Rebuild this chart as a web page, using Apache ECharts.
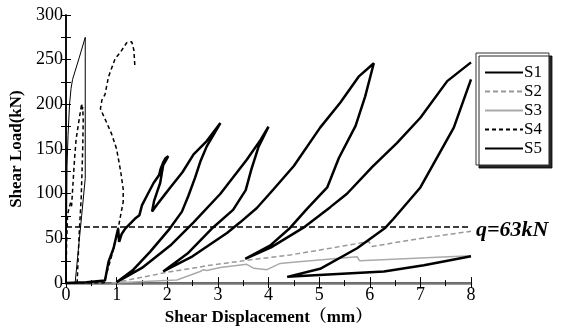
<!DOCTYPE html>
<html>
<head>
<meta charset="utf-8">
<script src="https://cdn.jsdelivr.net/npm/echarts@6/dist/echarts.min.js"></script>
<style>
  html, body { margin: 0; padding: 0; background: #fff; }
  #chart { width: 563px; height: 331px; }
</style>
</head>
<body>
<div id="chart"></div>
<script>
// shear displacement (mm), shear load (kN)
const s1 = [
  [0, 0], [0.4, 1], [0.77, 3], [0.84, 24], [0.94, 39], [1.03, 61], [1.05, 46], [1.1, 55], [1.17, 61],
  [1.36, 72], [1.45, 76], [1.5, 87], [1.6, 98], [1.73, 112], [1.84, 121], [1.87, 128], [1.92, 135],
  [1.97, 140], [2.02, 142], [1.98, 138], [1.92, 132], [1.89, 122], [1.86, 112], [1.8, 102], [1.74, 92],
  [1.7, 80], [1.8, 88], [1.95, 99], [2.06, 107], [2.3, 124], [2.52, 144], [2.78, 159], [3.05, 179],
  [2.78, 153], [2.66, 137], [2.55, 118], [2.42, 98], [2.29, 80], [2.05, 61], [1.66, 35], [1.33, 15], [1.0, 1],
  [1.5, 17], [2.06, 42], [2.52, 68], [3.05, 100], [3.57, 138], [3.84, 160], [4.0, 175],
  [3.8, 152], [3.66, 127], [3.55, 104], [3.3, 82], [2.9, 62], [2.4, 33], [1.92, 13],
  [2.5, 30], [3.18, 56], [3.44, 68], [3.77, 84], [4.1, 105], [4.5, 131], [5.02, 174], [5.42, 202],
  [5.78, 231], [6.08, 246], [5.91, 209], [5.72, 176], [5.39, 140], [5.16, 107], [4.76, 83], [4.43, 62],
  [4.03, 42], [3.54, 27], [4.05, 40], [4.69, 62], [5.22, 85], [5.55, 100], [6.05, 130], [6.54, 157],
  [7.0, 185], [7.53, 226], [8, 247]
];
const s1Tail = [
  [8, 228], [7.66, 174], [7.0, 107], [6.47, 72], [6.31, 62], [5.75, 39], [5.02, 16], [4.37, 7],
  [5.0, 9], [6.28, 13], [7.07, 20], [8, 30]
];
const s2 = [
  [0.94, 0], [1.45, 6], [1.99, 12], [2.85, 20], [3.64, 26], [4.43, 31.5], [5.22, 39], [5.98, 46.5],
  [6.05, 41], [7, 50], [8, 58]
];
const s3 = [
  [0.9, 0], [2.19, 3.5], [2.65, 13], [2.72, 15], [2.78, 14], [3.05, 17.5], [3.57, 21], [3.71, 16.5],
  [3.97, 15], [4.23, 22], [4.43, 23], [5.75, 29.5], [5.8, 25], [8, 30.5]
];
const s4 = [
  [0, 0], [0.01, 40], [0.03, 76], [0.06, 84], [0.09, 90], [0.11, 86], [0.13, 104], [0.17, 140],
  [0.2, 161], [0.24, 176], [0.29, 194], [0.31, 201], [0.32, 193], [0.33, 197], [0.34, 182], [0.33, 150],
  [0.3, 95], [0.26, 55], [0.22, 0], [0.75, 0], [0.9, 30], [1.03, 61], [1.13, 91], [1.13, 105],
  [1.08, 125], [1.0, 150], [0.9, 167], [0.8, 180], [0.68, 195], [0.71, 205], [0.77, 211], [0.84, 231],
  [0.97, 251], [1.07, 258], [1.2, 269], [1.3, 270], [1.34, 261], [1.36, 243]
];
const s5 = [
  [0, 0], [0.01, 60], [0.02, 130], [0.04, 165], [0.07, 200], [0.1, 218], [0.13, 228], [0.26, 252],
  [0.38, 275], [0.38, 117], [0.31, 76], [0.18, 0]
];
const seriesNames = ['S1', 'S2', 'S3', 'S4', 'S5'];
const qLoad = 63;
const qLabel = 'q=63kN';

const serif = '"Liberation Serif", "Times New Roman", "Noto Serif CJK SC", "Noto Sans CJK SC", serif';

const chart = echarts.init(document.getElementById('chart'));

const tickStyle = { color: '#000', width: 1 };

const options = {
  animation: false,
  backgroundColor: '#fff',
  grid: { left: 66, right: 92, top: 15, bottom: 46 },
  legend: {
    data: seriesNames,
    orient: 'vertical',
    left: 476,
    top: 53,
    padding: [11, 7, 8, 8],
    itemWidth: 38,
    itemHeight: 14,
    itemGap: 2,
    backgroundColor: '#fff',
    borderColor: '#333',
    borderWidth: 1,
    borderRadius: 0,
    shadowColor: 'rgba(0,0,0,0.85)',
    shadowBlur: 0,
    shadowOffsetX: 3,
    shadowOffsetY: 3,
    itemStyle: { opacity: 0 },
    textStyle: { fontFamily: serif, fontSize: 17, color: '#000', lineHeight: 14, padding: [0, 0, 0, -4] },
  },
  graphic: [
    {
      type: 'text',
      left: 476,
      top: 219,
      style: { text: qLabel, font: 'italic bold 22px ' + serif, fill: '#000' },
    },
  ],
  xAxis: [
    {
      type: 'value',
      min: 0,
      max: 8,
      interval: 1,
      name: 'Shear Displacement（mm）',
      nameLocation: 'middle',
      nameGap: 22,
      nameTextStyle: { fontFamily: serif, fontSize: 17, fontWeight: 'bold', color: '#000' },
      axisLine: { lineStyle: { color: '#000', width: 1.5 } },
      axisTick: { inside: true, length: 6, lineStyle: tickStyle },
      minorTick: { show: true, splitNumber: 2, length: 3, lineStyle: tickStyle },
      axisLabel: { fontFamily: serif, fontSize: 18, color: '#000', margin: 3 },
      splitLine: { show: false },
    },
    {
      type: 'value',
      position: 'top',
      min: 0,
      max: 8,
      interval: 1,
      axisLine: { lineStyle: { color: '#777', width: 2.5 } },
      axisTick: { inside: true, length: 5, lineStyle: tickStyle },
      minorTick: { show: true, splitNumber: 2, length: 3, lineStyle: tickStyle },
      axisLabel: { show: false },
      splitLine: { show: false },
    },
  ],
  yAxis: [
    {
      type: 'value',
      min: 0,
      max: 300,
      interval: 50,
      name: 'Shear Load(kN)',
      nameLocation: 'middle',
      nameGap: 32,
      nameTextStyle: { fontFamily: serif, fontSize: 17, fontWeight: 'bold', color: '#000' },
      axisLine: { show: true, lineStyle: { color: '#000', width: 1.5 } },
      axisTick: { show: true, inside: true, length: 5, lineStyle: tickStyle },
      minorTick: { show: true, splitNumber: 2, length: 5, lineStyle: tickStyle },
      axisLabel: { fontFamily: serif, fontSize: 18, color: '#000', margin: 3 },
      splitLine: { show: false },
    },
    {
      type: 'value',
      position: 'right',
      min: 0,
      max: 300,
      interval: 50,
      axisLine: { show: true, lineStyle: { color: '#000', width: 1.5 } },
      axisTick: { show: true, inside: true, length: 5, lineStyle: tickStyle },
      minorTick: { show: true, splitNumber: 2, length: 5, lineStyle: tickStyle },
      axisLabel: { show: false },
      splitLine: { show: false },
    },
  ],
  series: [
    {
      name: 'S1',
      type: 'line',
      data: s1,
      symbol: 'none',
      z: 5,
      lineStyle: { color: '#000', width: 2.5 },
      itemStyle: { color: '#000' },
      markLine: {
        silent: true,
        symbol: 'none',
        label: { show: false },
        lineStyle: { color: '#000', width: 1.5, type: [6, 3] },
        data: [{ yAxis: qLoad }],
      },
    },
    {
      name: 'S2',
      type: 'line',
      data: s2,
      symbol: 'none',
      lineStyle: { color: '#999', width: 1.5, type: [5, 3] },
      itemStyle: { color: '#999' },
    },
    {
      name: 'S3',
      type: 'line',
      data: s3,
      symbol: 'none',
      lineStyle: { color: '#aaa', width: 1.5 },
      itemStyle: { color: '#aaa' },
    },
    {
      name: 'S4',
      type: 'line',
      data: s4,
      symbol: 'none',
      lineStyle: { color: '#000', width: 1.5, type: [4, 3] },
      itemStyle: { color: '#000' },
    },
    {
      name: 'S5',
      type: 'line',
      data: s5,
      symbol: 'none',
      lineStyle: { color: '#000', width: 1 },
      itemStyle: { color: '#000' },
    },
    {
      name: 'S1',
      type: 'line',
      data: s1Tail,
      symbol: 'none',
      z: 5,
      lineStyle: { color: '#000', width: 2.5 },
      itemStyle: { color: '#000' },
    },
  ],
};

chart.setOption(options);
</script>
</body>
</html>
